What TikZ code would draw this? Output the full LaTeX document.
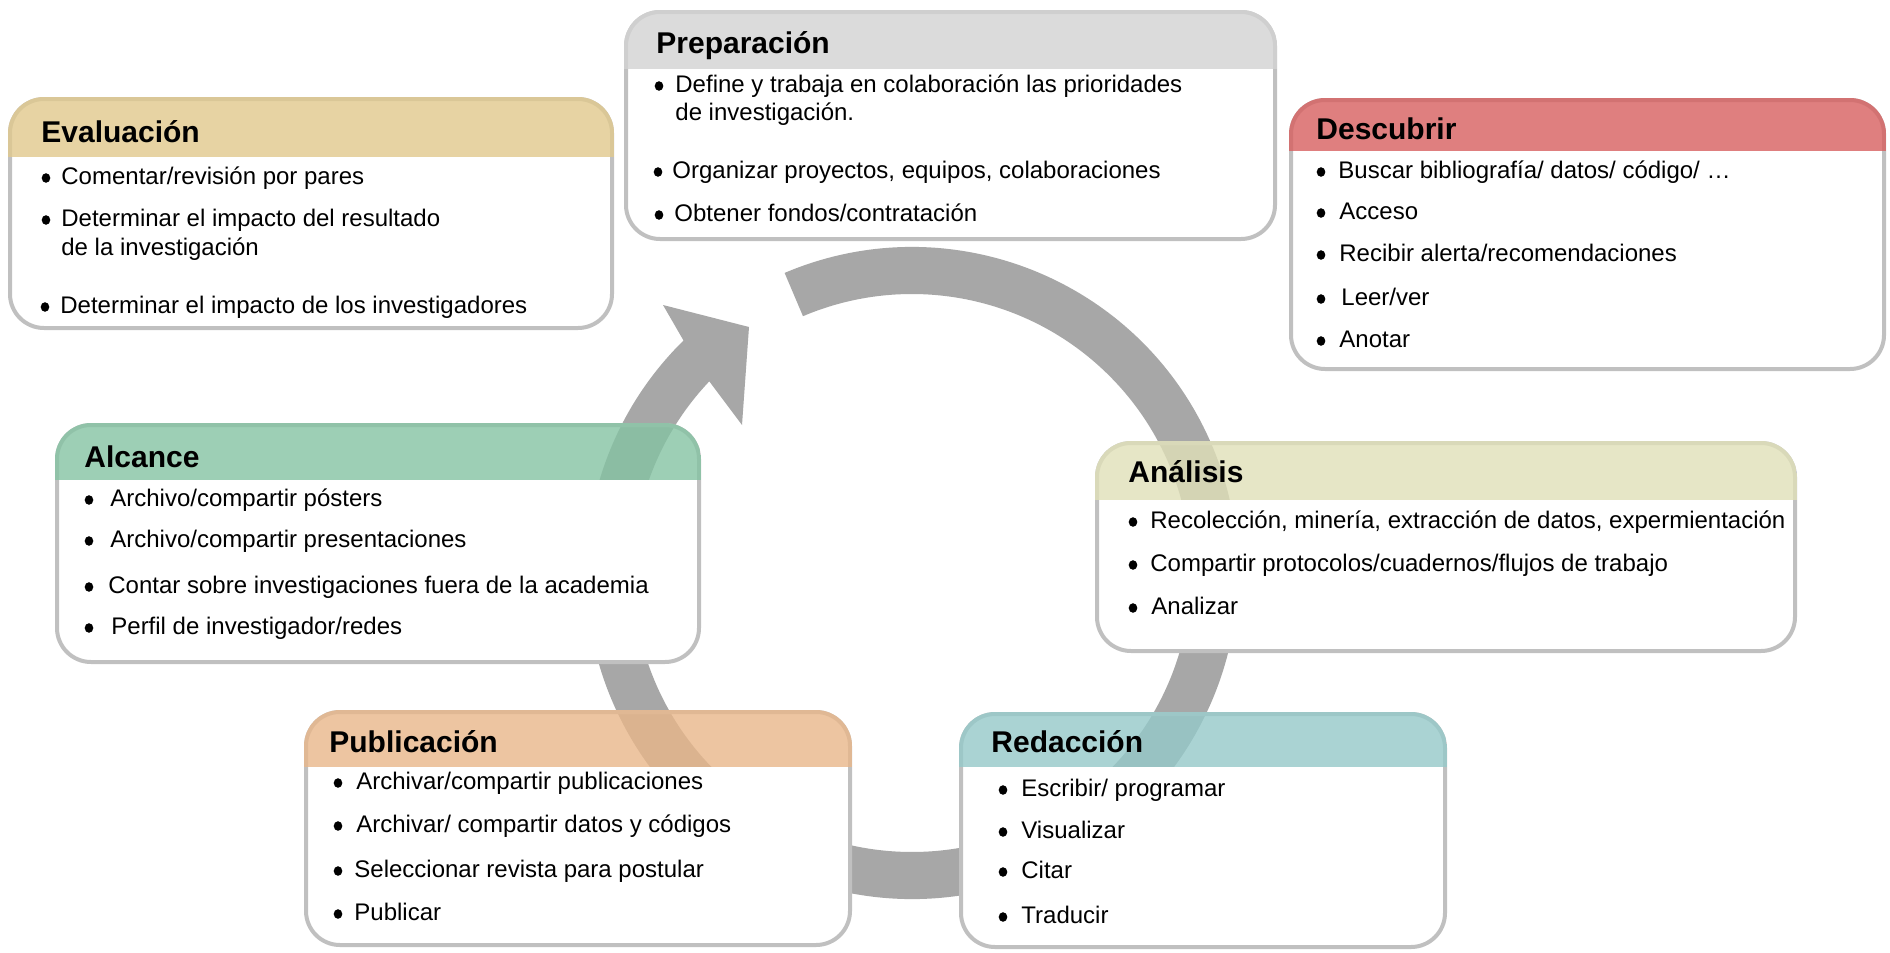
\documentclass[tikz,border=0pt]{standalone}
\usepackage{fontspec}
\setmainfont{Liberation Sans}
\usetikzlibrary{calc}
\definecolor{ringgray}{RGB}{167,167,167}
\definecolor{bordergray}{RGB}{192,192,192}
\definecolor{hdEval}{RGB}{225,201,141}
\definecolor{hdPrep}{RGB}{211,211,211}
\definecolor{hdDesc}{RGB}{215,95,95}
\definecolor{hdAlc}{RGB}{133,195,163}
\definecolor{hdAna}{RGB}{224,224,184}
\definecolor{hdPub}{RGB}{233,183,138}
\definecolor{hdRed}{RGB}{149,201,201}
\tikzset{
  itemtext/.style={anchor=base west, inner sep=0pt, font=\fontsize{12}{14}\selectfont, text=black},
  boxtitle/.style={anchor=base west, inner sep=0pt, font=\fontsize{15}{18}\selectfont\bfseries, text=black},
  bulletdot/.style={fill=black},
  boxborder/.style={draw=bordergray, line width=2pt, rounded corners=17pt},
}
% #1 name, #2 x1, #3 y1 (top), #4 x2, #5 y2 (bottom), #6 header bottom, #7 colour
\newcommand\phasebox[7]{%
  \begin{scope}
    \clip[rounded corners=17pt] (#2,#3) rectangle (#4,#5);
    \fill[white] (#2,#6) rectangle (#4,#5);
  \end{scope}
  \draw[boxborder] (#2,#3) rectangle (#4,#5);
  \begin{scope}
    \clip[rounded corners=18pt] (#2-2,#3-2) rectangle (#4+2,#5+2);
    \fill[#7, opacity=0.8] (#2-2,#3-2) rectangle (#4+2,#6);
  \end{scope}
  \coordinate (#1) at (#2,#3);
}
% #1 name, #2 bullet x, #3 text x, #4 baseline, #5 text
\newcommand\itm[5]{%
  \fill[bulletdot] (#2,#4-6) ellipse [x radius=4.3, y radius=4.8];
  \node[itemtext] (#1) at (#3,#4) {#5};
}
\begin{document}
\begin{tikzpicture}[x=0.5pt,y=-0.5pt]
\useasboundingbox (0,0) rectangle (1890,953);
\fill[white] (0,0) rectangle (1890,953);

% cycle ring with arrow head
\coordinate (C) at (912,573);
\coordinate (barbL) at (663,305);
\coordinate (tip) at (749,327);
\coordinate (barbR) at (742,425);
\fill[ringgray] ($(C)+(-113:326)$) arc[start angle=-113, end angle=225.5, radius=326]
  -- (barbL) -- (tip) -- (barbR)
  -- ($(C)+(223.4:279)$) arc[start angle=223.4, end angle=-113, radius=279] -- cycle;

% Evaluacion
\phasebox{evalbox}{10}{99}{612}{328}{157}{hdEval}
\node[boxtitle] (evalT) at (41,142) {Evaluación};
\itm{eval1}{46}{61}{184}{Comentar/revisión por pares}
\itm{eval2}{46}{61}{226}{Determinar el impacto del resultado}
\node[itemtext] (eval2b) at (61,255) {de la investigación};
\itm{eval3}{45}{60}{313}{Determinar el impacto de los investigadores}

% Preparacion
\phasebox{prepbox}{626}{12}{1275}{239}{69}{hdPrep}
\node[boxtitle] (prepT) at (656,54) {Preparación};
\itm{prep1}{659}{675}{92}{Define y trabaja en colaboración las prioridades}
\node[itemtext] (prep1b) at (675,120) {de investigación.};
\itm{prep2}{658}{672}{178}{Organizar proyectos, equipos, colaboraciones}
\itm{prep3}{659}{674}{221}{Obtener fondos/contratación}

% Descubrir
\phasebox{descbox}{1291}{100}{1884}{369}{151}{hdDesc}
\node[boxtitle] (descT) at (1316,139) {Descubrir};
\itm{desc1}{1321}{1338}{178}{Buscar bibliografía/ datos/ código/ …}
\itm{desc2}{1321}{1339}{219}{Acceso}
\itm{desc3}{1321}{1339}{261}{Recibir alerta/recomendaciones}
\itm{desc4}{1321}{1341}{305}{Leer/ver}
\itm{desc5}{1321}{1339}{347}{Anotar}

% Alcance
\phasebox{alcbox}{57}{425}{699}{662}{480}{hdAlc}
\node[boxtitle] (alcT) at (84,467) {Alcance};
\itm{alc1}{89}{110}{506}{Archivo/compartir pósters}
\itm{alc2}{89}{110}{547}{Archivo/compartir presentaciones}
\itm{alc3}{89}{108}{593}{Contar sobre investigaciones fuera de la academia}
\itm{alc4}{89}{111}{634}{Perfil de investigador/redes}

% Analisis
\phasebox{anabox}{1097}{443}{1795}{651}{500}{hdAna}
\node[boxtitle] (anaT) at (1128,482) {Análisis};
\itm{ana1}{1133}{1150}{528}{Recolección, minería, extracción de datos, expermientación}
\itm{ana2}{1133}{1150}{571}{Compartir protocolos/cuadernos/flujos de trabajo}
\itm{ana3}{1133}{1151}{614}{Analizar}

% Publicacion
\phasebox{pubbox}{306}{712}{850}{945}{767}{hdPub}
\node[boxtitle] (pubT) at (329,752) {Publicación};
\itm{pub1}{338}{356}{789}{Archivar/compartir publicaciones}
\itm{pub2}{338}{356}{832}{Archivar/ compartir datos y códigos}
\itm{pub3}{338}{354}{877}{Seleccionar revista para postular}
\itm{pub4}{338}{354}{920}{Publicar}

% Redaccion
\phasebox{redbox}{961}{714}{1445}{947}{767}{hdRed}
\node[boxtitle] (redT) at (991,752) {Redacción};
\itm{red1}{1003}{1021}{796}{Escribir/ programar}
\itm{red2}{1003}{1021}{838}{Visualizar}
\itm{red3}{1003}{1021}{878}{Citar}
\itm{red4}{1003}{1021}{923}{Traducir}
\end{tikzpicture}
\end{document}
